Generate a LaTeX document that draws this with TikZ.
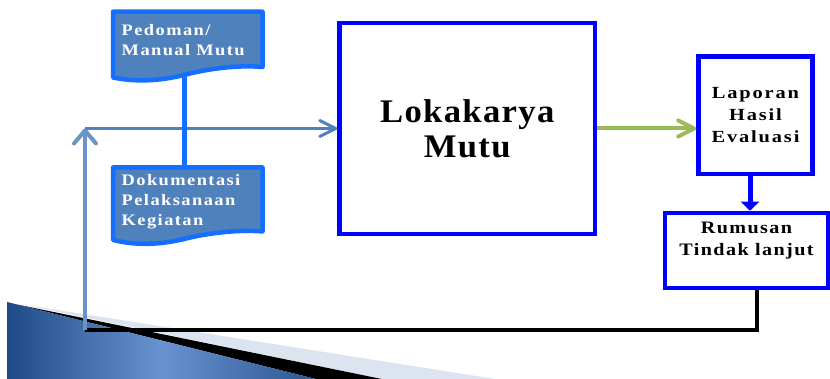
\documentclass[tikz,border=0pt]{standalone}
\usepackage{fontspec}
\setmainfont{Liberation Serif}
\usetikzlibrary{arrows.meta,calc}
\definecolor{docfill}{RGB}{79,129,189}
\definecolor{docedge}{RGB}{20,110,255}
\definecolor{boxedge}{RGB}{0,0,255}
\definecolor{steel}{RGB}{79,129,189}
\definecolor{arrgreen}{RGB}{155,187,89}
\definecolor{decolight}{RGB}{220,228,240}
\definecolor{decodark}{RGB}{30,75,135}
\definecolor{decomid}{RGB}{105,147,208}
\newfontfamily\lokfont[LetterSpace=4,FakeStretch=1.05]{Liberation Serif}
\newfontfamily\lapfont[LetterSpace=11,FakeStretch=1.2]{Liberation Serif}
\newfontfamily\rumfont[LetterSpace=8,FakeStretch=1.15]{Liberation Serif}
\newfontfamily\docfont[LetterSpace=9,FakeStretch=1.15]{Liberation Serif}
\begin{document}
\begin{tikzpicture}[x=1pt,y=-1pt,
  bluebox/.style={draw=boxedge, line width=4.5pt, fill=white, inner sep=0pt},
  docshape/.style={fill=docfill, draw=docedge, line width=4.5pt, line join=round},
  doctext/.style={anchor=north west, inner sep=0pt, text=white, align=left,
    font=\docfont\bfseries\fontsize{16}{20}\selectfont},
  doclink/.style={draw=docedge, line width=5pt},
  steelright/.style={draw=steel, line width=3pt, -{Straight Barb[length=16pt,width=16pt,round]}},
  steelup/.style={draw=steel!85!white, line width=4pt, -{Straight Barb[length=13pt,width=22pt,round]}},
  greenarrow/.style={draw=arrgreen, line width=4pt, -{Straight Barb[length=16pt,width=16pt,round]}},
  bluedown/.style={draw=boxedge, line width=5pt, -{Triangle[length=9pt,width=18pt]}},
  blackline/.style={draw=black, line width=4pt}
]
\useasboundingbox (0,0) rectangle (830,379);

% bottom-left decoration
\fill[decolight] (20,304) -- (495,379) -- (381.7,379) -- cycle;
\fill[black] (17,304.5) -- (381.7,379) -- (316,379) -- cycle;
\shade[left color=decodark, right color=decodark!85!decomid, middle color=decomid]
  (7,302) -- (316,379) -- (7,379) -- cycle;

% boxes
\node[bluebox, minimum width=255.5pt, minimum height=211pt, align=center,
  font=\lokfont\bfseries\fontsize{33}{35}\selectfont] (lok) at (467.25,128.5) {Lokakarya\\Mutu};
\node[bluebox, minimum width=114pt, minimum height=117.7pt, align=center,
  font=\lapfont\bfseries\fontsize{17}{22}\selectfont] (lap) at (755.5,115.2) {Laporan\\Hasil\\Evaluasi};
\node[bluebox, minimum width=163pt, minimum height=75pt] (rum) at (746.5,250.5) {};
\node[anchor=north, inner sep=0pt, align=center,
  font=\rumfont\bfseries\fontsize{17.5}{22}\selectfont] (rumtext) at (746.5,221.4) {Rumusan\\Tindak lanjut};

% connectors
\coordinate (corner) at (85,330);
\coordinate (turn) at (85,128.5);
\draw[blackline] ([xshift=10.5pt]rum.south) |- (corner);
\draw[steelup] (corner) -- (turn);
\draw[steelright] (turn) -- (lok.west);
\draw[greenarrow] (lok.east) -- (lok.east -| lap.west);
\draw[bluedown] ([xshift=-5.5pt]lap.south) -- ([xshift=-5.5pt]lap.south |- rum.north);

% documents
\coordinate (pedlow) at (184.5,70);
\coordinate (doktop) at (184.5,169);
\draw[doclink] (pedlow) -- (doktop);
\path[docshape] (113,11.7) -- (262.5,11.7) -- (262.5,67)
  .. controls (240,65) and (212,68) .. (188,74)
  .. controls (165,80) and (140,83) .. (113,77.5) -- cycle;
\path[docshape] (113,167.5) -- (262.5,167.5) -- (262.5,231.5)
  .. controls (240,229.5) and (212,232.5) .. (188,238)
  .. controls (165,244) and (140,246.5) .. (113,240) -- cycle;
\node[doctext] (ped) at (121.5,24) {Pedoman/\\Manual Mutu};
\node[doctext] (dok) at (121.5,174) {Dokumentasi\\Pelaksanaan\\Kegiatan};
\end{tikzpicture}
\end{document}
